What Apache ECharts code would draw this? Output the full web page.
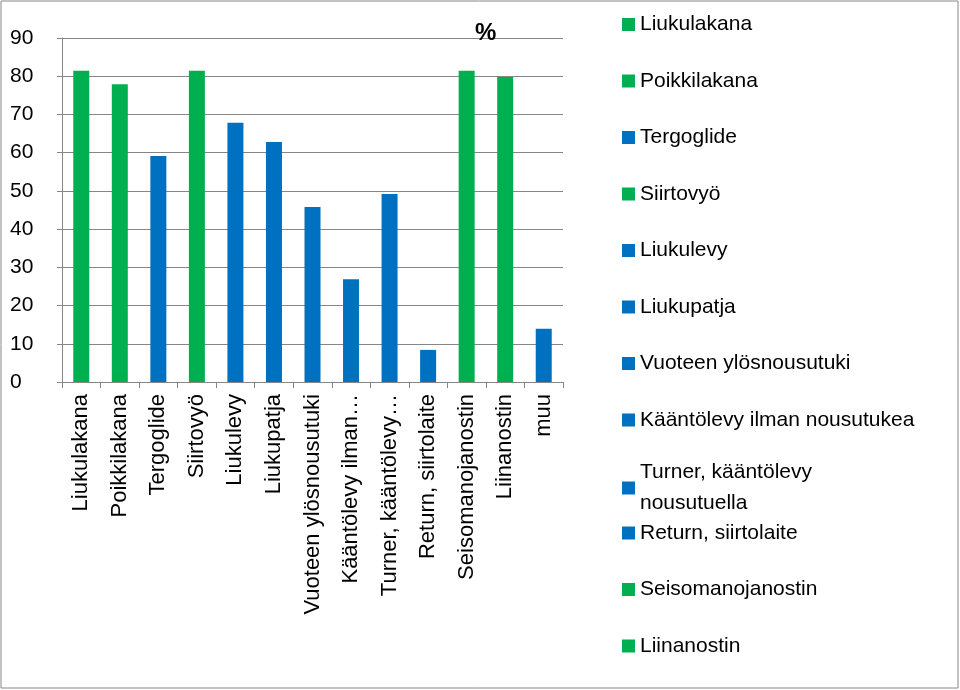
<!DOCTYPE html>
<html><head><meta charset="utf-8">
<script src="https://cdn.jsdelivr.net/npm/echarts@6/dist/echarts.min.js"></script>
<style>html,body{margin:0;padding:0;background:#fff}#c{width:960px;height:690px}</style>
</head><body><div id="c"></div>
<script>
const categories = ["Liukulakana","Poikkilakana","Tergoglide","Siirtovyö","Liukulevy","Liukupatja","Vuoteen ylösnousutuki","Kääntölevy ilman nousutukea","Turner, kääntölevy nousutuella","Return, siirtolaite","Seisomanojanostin","Liinanostin","muu"];
const axisLabels = ["Liukulakana","Poikkilakana","Tergoglide","Siirtovyö","Liukulevy","Liukupatja","Vuoteen ylösnousutuki","Kääntölevy ilman…","Turner, kääntölevy…","Return, siirtolaite","Seisomanojanostin","Liinanostin","muu"];
const values = [81.4,77.9,59.1,81.4,67.8,62.8,45.8,26.9,49.2,8.4,81.4,79.8,13.9];
const groups = ["g","g","b","g","b","b","b","b","b","b","g","g","b"];
const yTicks = [0,10,20,30,40,50,60,70,80,90];
const COL = {g:"#00B050", b:"#0070C0"};
const font = "Liberation Sans, sans-serif";

const series = categories.map((name,i)=>({
  name, type:"bar", stack:"s", barWidth:16,
  itemStyle:{color:COL[groups[i]]},
  data: categories.map((c,j)=> j===i ? values[i] : null)
}));
const legends = categories.slice(0,12).map((name,i)=>({
  data:[name], left:617, top: (i===8 ? 452 : 4 + i*56.5),
  itemWidth:13, itemHeight:13, itemGap:0, icon:"rect", selectedMode:false,
  formatter: n => n==="Turner, kääntölevy nousutuella" ? "Turner, kääntölevy\nnousutuella" : n,
  textStyle:{fontSize:21, fontFamily:font, color:"#000", lineHeight:31}
}));
const chart = echarts.init(document.getElementById("c"));
chart.setOption({
  animation:false,
  title:{text:"%", left:470, top:16, textStyle:{fontSize:24,fontWeight:"bold",fontFamily:font,color:"#000"}},
  legend: legends,
  grid:{left:62, right:397, top:38, bottom:308, containLabel:false},
  xAxis:{type:"category", data:categories,
    axisLine:{lineStyle:{color:"#868686"}}, axisTick:{show:true, interval:0, length:6, lineStyle:{color:"#868686"}},
    axisLabel:{rotate:90, interval:0, fontSize:22, fontFamily:font, color:"#000", margin:12,
      formatter:(v,i)=>axisLabels[i]}},
  yAxis:{type:"value", min:0, max:90, interval:10,
    axisLine:{show:true,lineStyle:{color:"#868686"}}, axisTick:{show:true,lineStyle:{color:"#868686"}},
    splitLine:{lineStyle:{color:"#868686"}},
    axisLabel:{fontSize:21, fontFamily:font, color:"#000", margin:52, align:"left",
      formatter:v=>yTicks.includes(v)?String(v):""}},
  series,
  graphic:[{type:"rect", shape:{x:1,y:1,width:957,height:687}, style:{fill:null, stroke:"#868686", lineWidth:1}, silent:true}]
});
</script></body></html>
